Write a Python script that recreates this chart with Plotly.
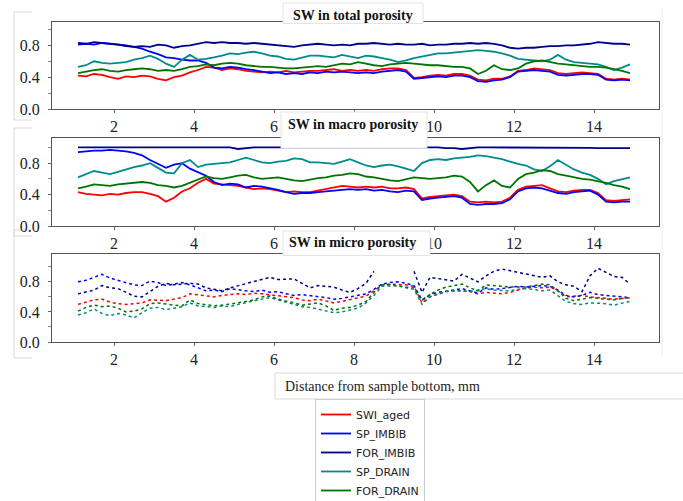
import plotly.graph_objects as go

W, H = 683, 501

# ---------------- data ----------------
depth_mm = [round(1.1 + 0.2 * i, 1) for i in range(70)]

series_names = ["SWI_aged", "SP_IMBIB", "FOR_IMBIB", "SP_DRAIN", "FOR_DRAIN"]
series_colors = ["#ff0000", "#0000ff", "#00008b", "#008b8b", "#007400"]
panel_titles = ["SW in total porosity", "SW in macro porosity", "SW in micro porosity"]
x_title = "Distance from sample bottom, mm"
x_tick_values = [2, 4, 6, 8, 10, 12, 14]

# SW in total porosity
total_swi_aged = [.42, .41, .44, .43, .40, .38, .41, .40, .42, .41,
                  .38, .36, .40, .42, .46, .49, .53, .52, .49, .51,
                  .50, .48, .47, .46, .47, .46, .48, .46, .47, .48,
                  .48, .49, .50, .48, .49, .48, .49, .48, .50, .51,
                  .51, .49, .39, .40, .42, .43, .42, .44, .44, .42,
                  .37, .36, .38, .38, .41, .48, .49, .51, .50, .49,
                  .45, .44, .45, .46, .45, .44, .38, .37, .38, .37]
total_sp_imbib = [.81, .82, .81, .83, .82, .81, .80, .78, .76, .72,
                  .69, .65, .64, .62, .61, .61, .58, .52, .51, .53,
                  .52, .50, .49, .47, .45, .46, .44, .45, .44, .46,
                  .45, .47, .46, .47, .46, .45, .46, .45, .47, .48,
                  .49, .47, .38, .39, .40, .41, .40, .42, .42, .40,
                  .35, .34, .36, .37, .40, .47, .48, .49, .48, .47,
                  .43, .42, .43, .44, .44, .43, .37, .36, .37, .36]
total_for_imbib = [.83, .82, .84, .83, .82, .81, .79, .78, .79, .78,
                   .81, .80, .77, .79, .80, .82, .84, .83, .84, .83,
                   .83, .82, .83, .82, .81, .80, .79, .78, .80, .81,
                   .82, .81, .80, .81, .80, .82, .82, .83, .82, .81,
                   .82, .81, .81, .82, .80, .81, .81, .82, .82, .83,
                   .82, .83, .82, .80, .77, .76, .77, .77, .78, .79,
                   .79, .80, .80, .81, .82, .84, .83, .82, .82, .81]
total_sp_drain = [.53, .55, .60, .58, .57, .58, .59, .62, .64, .67,
                  .63, .57, .53, .62, .68, .62, .63, .65, .67, .70,
                  .69, .71, .72, .70, .67, .66, .63, .62, .65, .67,
                  .67, .66, .65, .68, .66, .64, .67, .66, .64, .62,
                  .59, .61, .64, .66, .68, .70, .70, .71, .72, .73,
                  .74, .73, .72, .70, .67, .63, .62, .61, .60, .62,
                  .68, .62, .59, .58, .57, .56, .53, .49, .52, .56]
total_for_drain = [.45, .47, .49, .50, .48, .47, .49, .50, .51, .50,
                   .48, .49, .48, .50, .53, .54, .56, .55, .57, .58,
                   .57, .55, .54, .53, .53, .52, .51, .51, .52, .53,
                   .54, .53, .55, .57, .56, .59, .57, .55, .54, .56,
                   .57, .58, .57, .56, .55, .55, .54, .53, .53, .51,
                   .44, .48, .55, .50, .49, .51, .57, .60, .61, .59,
                   .57, .56, .55, .54, .53, .53, .52, .50, .48, .45]

# SW in macro porosity
macro_swi_aged = [.43, .41, .40, .39, .41, .40, .42, .43, .43, .41,
                  .38, .31, .36, .44, .48, .55, .60, .54, .53, .52,
                  .51, .49, .47, .48, .47, .45, .43, .44, .43, .43,
                  .45, .47, .49, .51, .50, .49, .50, .49, .50, .48,
                  .48, .49, .47, .35, .37, .38, .39, .40, .38, .31,
                  .30, .31, .30, .31, .36, .46, .50, .51, .52, .48,
                  .44, .43, .45, .46, .46, .42, .33, .32, .33, .34]
macro_sp_imbib = [.94, .95, .96, .96, .97, .96, .95, .93, .90, .84,
                  .79, .74, .78, .80, .73, .69, .64, .56, .52, .54,
                  .53, .49, .51, .50, .48, .46, .43, .41, .42, .42,
                  .43, .44, .45, .46, .47, .46, .47, .45, .46, .44,
                  .43, .45, .44, .33, .35, .36, .37, .38, .36, .28,
                  .27, .28, .28, .29, .34, .44, .48, .49, .48, .45,
                  .42, .41, .43, .44, .45, .40, .31, .30, .31, .31]
macro_for_imbib = [1.0, 1.0, 1.0, 1.0, 1.0, 1.0, 1.0, 1.0, 1.0, 1.0,
                   1.0, 1.0, 1.0, 1.0, 1.0, 1.0, 1.0, 1.0, 1.0, 1.0,
                   .98, .99, 1.0, 1.0, 1.0, 1.0, 1.0, 1.0, 1.0, 1.0,
                   1.0, 1.0, 1.0, 1.0, 1.0, 1.0, 1.0, 1.0, 1.0, 1.0,
                   1.0, 1.0, 1.0, 1.0, 1.0, 1.0, .99, .99, .98, .99,
                   1.0, 1.0, 1.0, 1.0, 1.0, 1.0, 1.0, 1.0, 1.0, 1.0,
                   1.0, .995, .995, .995, .995, .99, .99, .99, .99, .99]
macro_sp_drain = [.62, .66, .70, .68, .66, .69, .72, .75, .77, .80,
                  .74, .68, .67, .80, .84, .75, .78, .79, .80, .81,
                  .84, .87, .84, .81, .80, .82, .83, .86, .85, .81,
                  .81, .80, .79, .82, .85, .81, .77, .75, .77, .78,
                  .76, .73, .70, .80, .84, .85, .84, .86, .87, .88,
                  .90, .89, .87, .85, .82, .79, .77, .72, .70, .76,
                  .84, .78, .72, .68, .65, .60, .53, .57, .60, .62]
macro_for_drain = [.48, .50, .53, .52, .51, .53, .54, .55, .56, .55,
                   .52, .51, .49, .51, .55, .60, .63, .61, .60, .62,
                   .64, .65, .62, .60, .61, .62, .60, .58, .57, .59,
                   .61, .62, .64, .65, .67, .66, .63, .62, .60, .58,
                   .57, .60, .62, .61, .60, .61, .62, .64, .63, .56,
                   .44, .52, .58, .51, .49, .60, .66, .68, .71, .70,
                   .66, .64, .62, .60, .59, .57, .55, .52, .50, .47]

# SW in micro porosity
micro_swi_aged = [.50, .53, .56, .57, .53, .51, .50, .51, .52, .56,
                  .56, .55, .57, .59, .64, .63, .61, .60, .62, .63,
                  .64, .63, .65, .64, .63, .62, .61, .59, .56, .55,
                  .57, .55, .52, .54, .56, .58, .61, .68, .76, .77,
                  .77, .76, .74, .52, .60, .64, .67, .68, .68, .67,
                  .64, .66, .65, .64, .66, .69, .72, .73, .72, .73,
                  .68, .60, .61, .62, .60, .59, .58, .57, .58, .59]
micro_sp_imbib = [.80, .82, .86, .90, .85, .82, .78, .76, .75, .81,
                  .79, .75, .77, .79, .76, .72, .68, .69, .67, .71,
                  .70, .68, .67, .69, .66, .67, .64, .62, .63, .62,
                  .61, .59, .57, .58, .60, .62, .64, .70, .77, .79,
                  .80, .78, .75, .56, .63, .66, .68, .69, .71, .68,
                  .65, .72, .70, .71, .73, .74, .73, .74, .75, .74,
                  .69, .62, .60, .62, .66, .63, .62, .62, .61, .59]
micro_for_imbib = [.64, .66, .69, .75, .72, .71, .66, .61, .60, .67,
                   .74, .78, .76, .77, .78, .77, .72, .70, .68, .72,
                   .75, .77, .80, .84, .86, .83, .83, .84, .78, .72,
                   .75, .74, .73, .69, .66, .71, .78, .94, None, None,
                   None, None, .94, .66, .86, .84, .83, .81, .90, .85,
                   .80, .88, .94, .97, .95, .93, .91, .89, .86, .88,
                   .80, .76, .74, .67, .88, .98, .93, .87, .86, .77]
micro_sp_drain = [.36, .39, .44, .38, .35, .38, .36, .32, .39, .45,
                  .46, .43, .45, .47, .52, .48, .47, .46, .48, .47,
                  .50, .52, .54, .57, .59, .56, .52, .50, .47, .46,
                  .44, .41, .39, .40, .42, .45, .52, .62, .74, .75,
                  .75, .72, .70, .50, .60, .64, .67, .68, .68, .67,
                  .69, .71, .69, .68, .68, .70, .71, .70, .68, .69,
                  .62, .54, .51, .50, .52, .52, .51, .49, .52, .54]
micro_for_drain = [.41, .46, .49, .47, .48, .45, .40, .41, .44, .51,
                   .52, .50, .49, .48, .56, .51, .49, .48, .49, .50,
                   .52, .54, .56, .60, .61, .57, .55, .52, .49, .50,
                   .52, .48, .42, .45, .46, .49, .54, .66, .76, .76,
                   .75, .73, .72, .55, .63, .69, .73, .75, .77, .72,
                   .68, .76, .75, .73, .73, .73, .73, .75, .77, .76,
                   .68, .58, .55, .57, .59, .58, .57, .56, .58, .59]

panels = [
    [total_swi_aged, total_sp_imbib, total_for_imbib, total_sp_drain, total_for_drain],
    [macro_swi_aged, macro_sp_imbib, macro_for_imbib, macro_sp_drain, macro_for_drain],
    [micro_swi_aged, micro_sp_imbib, micro_for_imbib, micro_sp_drain, micro_for_drain],
]

# ---------------- layout helpers (pixel -> paper) ----------------
def px(x):
    return x / W

def py(y):
    return 1 - y / H

SERIF = "Liberation Serif"
plot_left, plot_right = 52, 659
panel_px = [(21.5, 109), (138, 226), (254, 342)]
y_ranges = [[0, 1.1], [0, 1.12], [0, 1.17]]
# the "8" label of the upper two panels is hidden behind the next panel's title box
x_tick_texts = [
    ["" if v == 8 else str(v) for v in x_tick_values],
    ["" if v == 8 else str(v) for v in x_tick_values],
    [str(v) for v in x_tick_values],
]

fig = go.Figure()

for p, series in enumerate(panels):
    ax = "" if p == 0 else str(p + 1)
    for name, color, vals in zip(series_names, series_colors, series):
        fig.add_trace(go.Scatter(
            x=depth_mm, y=vals, name=name, mode="lines",
            line=dict(color=color, width=1.5 if p == 2 else 1.8,
                      dash="dot" if p == 2 else "solid"),
            connectgaps=False,
            showlegend=(p == 0), legendgroup=name,
            xaxis="x" + ax, yaxis="y" + ax,
        ))

axis_common = dict(showline=True, mirror=True, linecolor="#555555", linewidth=1,
                   showgrid=False, zeroline=False, ticks="outside", ticklen=3,
                   tickcolor="#666666",
                   tickfont=dict(family=SERIF, size=16, color="#222222"))

layout = dict(
    width=W, height=H, margin=dict(l=0, r=0, t=0, b=0, autoexpand=False),
    paper_bgcolor="white", plot_bgcolor="white",
    showlegend=True,
    legend=dict(x=px(315), y=py(399), xanchor="left", yanchor="top",
                bgcolor="white", bordercolor="#cccccc", borderwidth=1,
                font=dict(family="DejaVu Sans", size=11, color="#222222"),
                itemwidth=30, tracegroupgap=0),
)

for p, (top, bot) in enumerate(panel_px):
    ax = "" if p == 0 else str(p + 1)
    layout["xaxis" + ax] = dict(axis_common, domain=[px(plot_left), px(plot_right)],
                                range=[0.45, 15.625],
                                tickmode="array", tickvals=x_tick_values,
                                ticktext=x_tick_texts[p],
                                anchor="y" + ax)
    layout["yaxis" + ax] = dict(axis_common, domain=[py(bot), py(top)],
                                range=y_ranges[p], dtick=0.4, tick0=0, tickformat=".1f",
                                anchor="x" + ax, ticklabelstandoff=5,
                                minor=dict(dtick=0.2, tick0=0, ticks="outside",
                                           ticklen=3, tickcolor="#888888"))

fig.update_layout(**layout)

# white title boxes (cover part of the panels as in the reference)
title_boxes = [(283, 3, 423, 23.5), (281, 112, 427, 148), (283, 231, 430, 255.5)]
title_y = [15, 125, 243]
for (x0, y0, x1, y1), ty, txt in zip(title_boxes, title_y, panel_titles):
    fig.add_shape(type="rect", xref="paper", yref="paper",
                  x0=px(x0), x1=px(x1), y0=py(y1), y1=py(y0),
                  fillcolor="white", line=dict(color="#e4e4e4", width=1), layer="above")
    fig.add_annotation(xref="paper", yref="paper", x=px(352.5), y=py(ty),
                       text="<b>" + txt + "</b>", showarrow=False,
                       font=dict(family=SERIF, size=14, color="#111111"),
                       xanchor="center", yanchor="middle")

# faint frames around the y tick label columns and at the right
faint = "#d9d9d9"
for (y0, y1) in [(12, 120), (128, 236), (230, 358)]:
    fig.add_shape(type="path", xref="paper", yref="paper",
                  path=f"M {px(32)},{py(y0)} L {px(14)},{py(y0)} L {px(14)},{py(y1)} L {px(32)},{py(y1)}",
                  line=dict(color=faint, width=1), layer="below")
fig.add_shape(type="line", xref="paper", yref="paper",
              x0=px(662), x1=px(662), y0=py(8), y1=py(355),
              line=dict(color="#ececec", width=1), layer="below")

# x-axis title box
fig.add_shape(type="rect", xref="paper", yref="paper",
              x0=px(275), x1=px(690), y0=py(399), y1=py(373),
              fillcolor="white", line=dict(color=faint, width=1), layer="below")
fig.add_annotation(xref="paper", yref="paper", x=px(283), y=py(386),
                   text=x_title, showarrow=False, xanchor="left", yanchor="middle",
                   font=dict(family=SERIF, size=14, color="#222222"))

fig.write_html("out.html", config={"displayModeBar": False},
               post_script="document.body.style.margin='0';document.body.style.overflow='hidden';")
